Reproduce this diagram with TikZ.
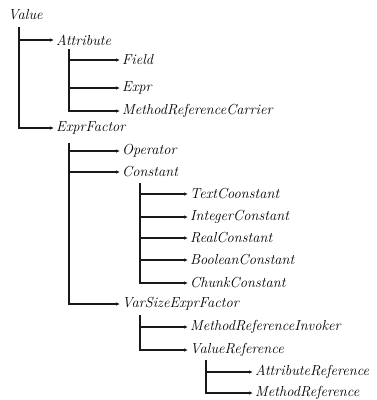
\documentclass[tikz,border=0pt]{standalone}
\usetikzlibrary{arrows.meta}
\begin{document}
\begin{tikzpicture}[x=1pt,y=-1pt,
  lbl/.style={anchor=west,inner sep=2pt,font=\fontsize{14.5}{17}\selectfont\itshape},
  conn/.style={line width=1.2pt,draw=black!90,-{Latex[length=4pt,width=3.5pt]}}]
\useasboundingbox (0,0) rectangle (377,400);
\node[lbl] (value) at (6,15) {Value};
\node[lbl] (attr) at (54,40) {Attribute};
\node[lbl] (field) at (120,60) {Field};
\node[lbl] (expr) at (120,88) {Expr};
\node[lbl] (mrc) at (120,111) {MethodReferenceCarrier};
\node[lbl] (ef) at (54,128) {ExprFactor};
\node[lbl] (op) at (120,151) {Operator};
\node[lbl] (const) at (120,172) {Constant};
\node[lbl] (tc) at (188,194) {TextCoonstant};
\node[lbl] (ic) at (188,217) {IntegerConstant};
\node[lbl] (rc) at (188,238) {RealConstant};
\node[lbl] (bc) at (188,260) {BooleanConstant};
\node[lbl] (cc) at (188,283) {ChunkConstant};
\node[lbl] (vsef) at (120,304) {VarSizeExprFactor};
\node[lbl] (mri) at (188,327) {MethodReferenceInvoker};
\node[lbl] (vr) at (188,350) {ValueReference};
\node[lbl] (ar) at (253,372) {AttributeReference};
\node[lbl] (mr) at (253,393) {MethodReference};
\coordinate (t0) at (19,27);
\coordinate (t1) at (69,49);
\coordinate (t2) at (69,143);
\coordinate (t3) at (140,183);
\coordinate (t4) at (140,315);
\coordinate (t5) at (206,360);
\draw[conn] (t0) |- (attr.west);
\draw[conn] (t0) |- (ef.west);
\draw[conn] (t1) |- (field.west);
\draw[conn] (t1) |- (expr.west);
\draw[conn] (t1) |- (mrc.west);
\draw[conn] (t2) |- (op.west);
\draw[conn] (t2) |- (const.west);
\draw[conn] (t2) |- (vsef.west);
\draw[conn] (t3) |- (tc.west);
\draw[conn] (t3) |- (ic.west);
\draw[conn] (t3) |- (rc.west);
\draw[conn] (t3) |- (bc.west);
\draw[conn] (t3) |- (cc.west);
\draw[conn] (t4) |- (mri.west);
\draw[conn] (t4) |- (vr.west);
\draw[conn] (t5) |- (ar.west);
\draw[conn] (t5) |- (mr.west);
\end{tikzpicture}
\end{document}
